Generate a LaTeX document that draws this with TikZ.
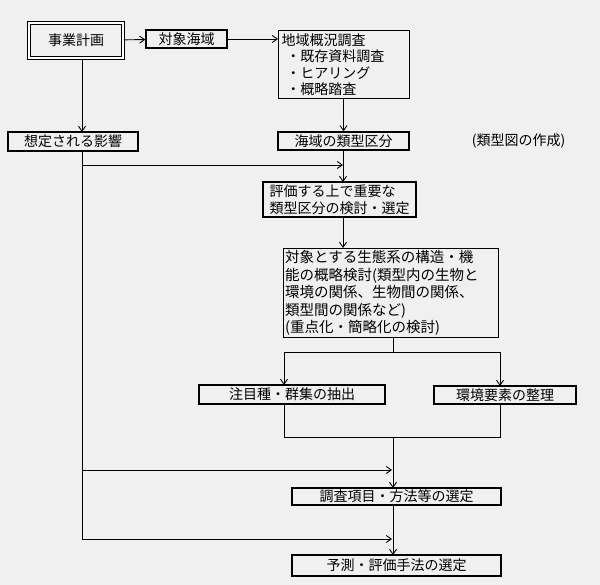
\documentclass[tikz,border=0pt]{standalone}
\usepackage{fontspec}
\setmainfont{Noto Sans CJK JP}
\usetikzlibrary{arrows.meta}
\begin{document}
\begin{tikzpicture}[x=1pt,y=-1pt,line width=1.3pt,
  bx/.style={draw,line width=1.4pt,inner sep=0pt,font=\fontsize{14}{16}\selectfont},
  ar/.style={-{Straight Barb[length=5pt,width=7pt,line width=0.9pt]},line width=0.9pt},
  ln/.style={line width=0.9pt}]
\fill[gray!12] (0,0) rectangle (600,585);
\useasboundingbox (0,0) rectangle (600,585);
\node[bx,double,double distance=1.5pt,minimum width=94pt,minimum height=35pt] (a) at (76,40.5) {事業計画};
\node[bx,minimum width=81pt,minimum height=18pt] (b) at (186.5,39) {対象海域};
\node[bx,minimum width=131pt,minimum height=68pt,anchor=north west,align=left,text width=125pt,inner xsep=3pt,font=\fontsize{14}{16.5}\selectfont] (c) at (278,30) {地域概況調査\\\ ・既存資料調査\\\ ・ヒアリング\\\ ・概略踏査};
\node[bx,minimum width=130pt,minimum height=19pt] (d) at (73,141.5) {想定される影響};
\node[bx,minimum width=131pt,minimum height=18pt] (e) at (343.5,141) {海域の類型区分};
\node[font=\fontsize{14}{16}\selectfont,anchor=west] (el) at (468,141) {(類型図の作成)};
\node[bx,minimum width=153pt,minimum height=35pt,align=left,font=\fontsize{14}{16.5}\selectfont] (f) at (339.5,199.5) {評価する上で重要な\\類型区分の検討・選定};
\node[bx,minimum width=215pt,minimum height=89pt,anchor=north west,align=left,text width=212pt,inner xsep=1.5pt,font=\fontsize{14.5}{17.5}\selectfont] (g) at (283,248) {対象とする生態系の構造・機\\能の概略検討(類型内の生物と\\環境の関係、生物間の関係、\\類型間の関係など)\\(重点化・簡略化の検討)};
\node[bx,minimum width=186pt,minimum height=19pt] (h) at (292,394.5) {注目種・群集の抽出};
\node[bx,minimum width=142pt,minimum height=18pt] (i) at (505,395) {環境要素の整理};
\node[bx,minimum width=209pt,minimum height=17pt] (j) at (396.5,496.5) {調査項目・方法等の選定};
\node[bx,minimum width=209pt,minimum height=21pt] (k) at (396.5,565.5) {予測・評価手法の選定};
\coordinate (s1) at (82,165);
\coordinate (s2) at (82,470);
\coordinate (s3) at (82,539);
\draw[ar] (a) -- (b);
\draw[ar] (b) -- (c.west|-b);
\draw[ar] (82,59) -- (82,132);
\draw[ar] (c.south-|e) -- (e.north);
\draw[ln] (82,151) -- (s3);
\draw[ar] (s1) -- (343,165);
\draw[ar] (e.south-|343,0) -- (343,182);
\draw[ar] (343,217) -- (343,248);
\draw[ln] (393,337) -- (393,352);
\draw[ar] (284,352) -- (284,385);
\draw[ar] (500,352) -- (500,386);
\draw[ln] (284,352) -- (500,352);
\draw[ln] (284,404) -- (284,437) -- (500,437) -- (500,404);
\draw[ar] (393,437) -- (393,488);
\draw[ar] (s2) -- (392,470);
\draw[ar] (393,505) -- (393,555);
\draw[ar] (s3) -- (392,539);
\end{tikzpicture}
\end{document}
